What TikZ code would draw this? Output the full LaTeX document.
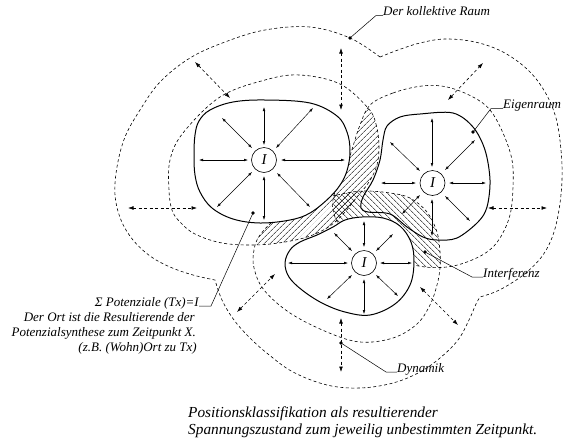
\documentclass[tikz,border=0pt]{standalone}
\usepackage{fontspec}
\setmainfont{Liberation Serif}
\usetikzlibrary{arrows.meta,patterns.meta}
\begin{document}
\begin{tikzpicture}[x=1pt,y=-1pt,
  blobline/.style={line width=1pt},
  dsh/.style={line width=0.6pt, dash pattern=on 3pt off 2.5pt},
  arr/.style={line width=0.45pt, {Latex[length=4pt,width=2.6pt]}-{Latex[length=4pt,width=2.6pt]}},
  darr/.style={line width=0.6pt, dash pattern=on 3pt off 2.5pt, {Latex[length=5.5pt,width=3.8pt]}-{Latex[length=5.5pt,width=3.8pt]}},
  ptr/.style={line width=0.5pt},
  lbl/.style={font=\fontsize{13}{15}\selectfont\itshape, inner sep=0pt},
  captxt/.style={font=\fontsize{15.3}{17}\selectfont\itshape, inner sep=0pt},
  icirc/.style={circle, draw, line width=0.6pt, fill=white, minimum size=25pt, inner sep=0pt, font=\fontsize{15}{15}\selectfont\itshape},
  hatchA/.style={pattern={Lines[angle=45,distance=4pt,line width=0.5pt]}},
  hatchB/.style={pattern={Lines[angle=-45,distance=4pt,line width=0.5pt]}},
  Lin/.style={insert path={plot[smooth cycle,tension=0.6] coordinates {(368,108) (376,124) (379,145) (377,165) (369,182) (357,197) (345,212) (330,226) (310,236) (285,242) (255,245) (222,243) (195,234) (180,222) (172,210) (169,190) (170,160) (183,133) (220,97) (265,80) (300,75) (340,84)}}},
  Rin/.style={insert path={plot[smooth cycle,tension=0.6] coordinates {(370,105) (393,93) (422,86) (447,87) (473,97) (490,110) (503,133) (512,160) (513,187) (510,215) (500,238) (487,252) (467,262) (447,267) (425,267) (405,262) (385,250) (360,236) (340,225) (333,210) (334,195) (341,180) (348,162) (354,143) (360,125)}}},
  Bin/.style={insert path={plot[smooth cycle,tension=0.6] coordinates {(300,205) (337,195) (363,191) (390,193) (410,198) (427,212) (437,232) (440,252) (440,268) (437,285) (430,305) (417,324) (393,338) (360,342) (327,332) (290,313) (264,290) (254,268) (254,250) (260,235) (278,217)}}},
  Lblob/.style={insert path={plot[smooth cycle,tension=0.6] coordinates {(195,135) (199,121) (210,110) (233,102) (265,100) (310,103) (337,116) (347,132) (350,150) (348,167) (342,182) (330,197) (310,213) (290,220) (260,223) (233,219) (212,208) (200,192) (195,175) (194,155)}}},
  Rblob/.style={insert path={plot[smooth cycle,tension=0.55] coordinates {(387,126) (400,117) (420,114) (453,113) (473,127) (485,150) (490,180) (487,207) (478,222) (457,238) (437,240) (423,237) (407,227) (390,214) (368,212) (361,208) (363,197) (373,180) (380,160) (383,140)}}},
  Bblob/.style={insert path={plot[smooth cycle,tension=0.6] coordinates {(285,263) (290,250) (300,242) (317,235) (333,227) (345,220) (362,217) (383,218) (400,226) (411,242) (414,262) (410,285) (395,304) (370,315) (345,312) (322,303) (302,290) (289,277)}}}
]
\useasboundingbox (0,0) rectangle (563,440);

% hatched interference zones
\begin{scope}
  \clip[Lin];
  \fill[hatchA, Rin];
  \fill[hatchA, Bin];
\end{scope}
\begin{scope}
  \clip[Rin];
  \fill[hatchB, Bin];
\end{scope}

% inner dashed potential boundaries
\draw[dsh, Lin];
\draw[dsh, Rin];
\draw[dsh, Bin];

% outer collective boundary
\draw[dsh] plot[smooth,tension=0.6] coordinates {(380,57) (350,38) (310,27) (265,30) (225,42) (190,58) (160,82) (140,110) (125,137) (117,167) (115,195) (121,220) (133,240) (150,256) (170,267) (193,275) (215,280)}
  -- plot[smooth,tension=0.6] coordinates {(215,280) (222,300) (234,320) (250,338) (268,354) (293,372) (327,385) (360,388) (393,383) (420,372) (440,358) (458,340) (469,320) (476,304) (480,297)}
  -- plot[smooth,tension=0.6] coordinates {(480,297) (495,292) (510,284) (527,272) (543,255) (553,235) (559,210) (562,180) (561,150) (556,118) (545,92) (528,70) (503,52) (475,42) (445,39) (420,43) (398,50) (380,57)};

% blobs
\fill[white, Lblob];
\fill[white, Bblob];
\draw[blobline, Lblob];
\draw[blobline, Rblob];
\draw[blobline, Bblob];

% dashed dynamic arrows
\draw[darr] (195,62) -- (230,98);
\draw[darr] (341,48) -- (341,110);
\draw[darr] (128,208) -- (197,208);
\draw[darr] (448,100) -- (483,63);
\draw[darr] (488,208) -- (547,208);
\draw[darr] (237,312) -- (275,274);
\draw[darr] (341,318) -- (341,372);
\draw[darr] (420,287) -- (458,325);

% potential arrows
\foreach \a/\b in {{(264,145)}/{(264,107)}, {(264,176)}/{(264,220)}, {(248,160)}/{(199,160)}, {(281,160)}/{(345,160)}, {(252,148)}/{(222,118)}, {(276,148)}/{(313,108)}, {(252,172)}/{(217,207)}, {(277,173)}/{(310,207)},
  {(432,167)}/{(432,118)}, {(432,199)}/{(432,236)}, {(416,183)}/{(381,183)}, {(449,183)}/{(486,183)}, {(420,171)}/{(390,142)}, {(445,170)}/{(475,140)}, {(420,195)}/{(402,214)}, {(445,196)}/{(470,221)},
  {(364,247)}/{(364,221)}, {(364,279)}/{(364,314)}, {(348,263)}/{(288,263)}, {(380,263)}/{(412,263)}, {(352,251)}/{(334,233)}, {(376,251)}/{(393,234)}, {(352,275)}/{(327,299)}, {(376,275)}/{(398,296)}}
  \draw[arr] \a -- \b;

\node[icirc] (IL) at (264,160) {I};
\node[icirc] (IR) at (432.5,183) {I};
\node[icirc] (IB) at (364,263) {I};

% labels and pointers
\coordinate (krdot) at (350,38);
\coordinate (krbend) at (376,15.5);
\node[lbl, anchor=base west] (kr) at (383,15.5) {Der kollektive Raum};
\fill (krdot) circle (1.8);
\draw[ptr] (krdot) -- (krbend) -- (kr.base west);

\coordinate (erdot) at (473,132);
\coordinate (erbend) at (491,108.5);
\node[lbl, anchor=base west] (er) at (503,108.5) {Eigenraum};
\fill (erdot) circle (1.8);
\draw[ptr] (erdot) -- (erbend) -- (er.base west);

\coordinate (ifdot) at (425,252);
\coordinate (ifbend) at (472,277);
\node[lbl, anchor=base west] (if) at (483,277) {Interferenz};
\fill (ifdot) circle (1.8);
\draw[ptr] (ifdot) -- (ifbend) -- (if.base west);

\coordinate (dydot) at (341,343);
\coordinate (dybend) at (386,372);
\node[lbl, anchor=base west] (dy) at (397,372) {Dynamik};
\fill (dydot) circle (1.8);
\draw[ptr] (dydot) -- (dybend) -- (dy.base west);

\coordinate (spdot) at (253,213);
\coordinate (spbend) at (211,306);
\node[lbl, anchor=base east] (sp) at (199,306) {Σ Potenziale (Tx)=I};
\fill (spdot) circle (1.8);
\draw[ptr] (spdot) -- (spbend) -- (sp.base east);
\node[lbl, anchor=base east] (t2) at (195,321) {Der Ort ist die Resultierende der};
\node[lbl, anchor=base east] (t3) at (196,336) {Potenzialsynthese zum Zeitpunkt X.};
\node[lbl, anchor=base east] (t4) at (197,351) {(z.B. (Wohn)Ort zu Tx)};

\node[captxt, anchor=base west] (c1) at (188,417) {Positionsklassifikation als resultierender};
\node[captxt, anchor=base west] (c2) at (188,434) {Spannungszustand zum jeweilig unbestimmten Zeitpunkt.};
\end{tikzpicture}
\end{document}
